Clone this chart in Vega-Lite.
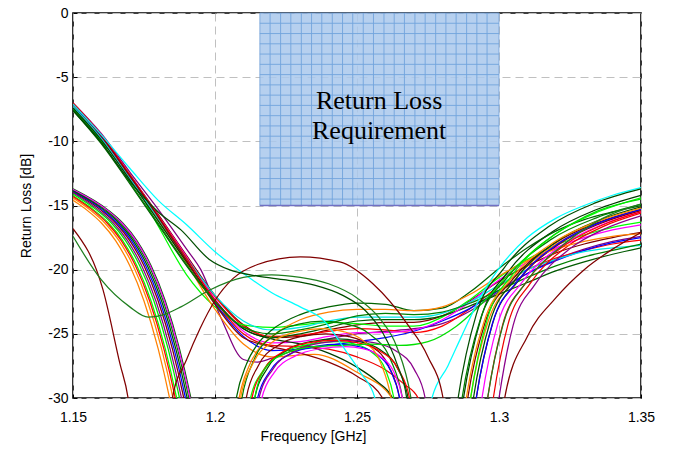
{
"$schema":"https://vega.github.io/schema/vega-lite/v6.json",
"width":568,"height":385,
"autosize":{"type":"none"},
"padding":{"left":73,"top":13,"right":34,"bottom":58},
"background":"#ffffff",
"config":{"view":{"stroke":"#000000","strokeWidth":1.6},"font":"Liberation Sans"},
"datasets":{
"box":[{"f":1.2158,"f2":1.3,"d":-15,"d2":0}],
"vgrid":[{"f":1.2194,"d":-15,"d2":0},{"f":1.2231,"d":-15,"d2":0},{"f":1.2267,"d":-15,"d2":0},{"f":1.2304,"d":-15,"d2":0},{"f":1.234,"d":-15,"d2":0},{"f":1.2376,"d":-15,"d2":0},{"f":1.2413,"d":-15,"d2":0},{"f":1.2449,"d":-15,"d2":0},{"f":1.2485,"d":-15,"d2":0},{"f":1.2522,"d":-15,"d2":0},{"f":1.2558,"d":-15,"d2":0},{"f":1.2595,"d":-15,"d2":0},{"f":1.2631,"d":-15,"d2":0},{"f":1.2667,"d":-15,"d2":0},{"f":1.2704,"d":-15,"d2":0},{"f":1.274,"d":-15,"d2":0},{"f":1.2777,"d":-15,"d2":0},{"f":1.2813,"d":-15,"d2":0},{"f":1.2849,"d":-15,"d2":0},{"f":1.2886,"d":-15,"d2":0},{"f":1.2922,"d":-15,"d2":0},{"f":1.2958,"d":-15,"d2":0}],
"hgrid":[{"d":-0.8,"f":1.2158,"f2":1.3},{"d":-1.6,"f":1.2158,"f2":1.3},{"d":-2.4,"f":1.2158,"f2":1.3},{"d":-3.2,"f":1.2158,"f2":1.3},{"d":-4.0,"f":1.2158,"f2":1.3},{"d":-4.8,"f":1.2158,"f2":1.3},{"d":-5.6,"f":1.2158,"f2":1.3},{"d":-6.4,"f":1.2158,"f2":1.3},{"d":-7.2,"f":1.2158,"f2":1.3},{"d":-8.0,"f":1.2158,"f2":1.3},{"d":-8.8,"f":1.2158,"f2":1.3},{"d":-9.6,"f":1.2158,"f2":1.3},{"d":-10.5,"f":1.2158,"f2":1.3},{"d":-11.3,"f":1.2158,"f2":1.3},{"d":-12.1,"f":1.2158,"f2":1.3},{"d":-12.9,"f":1.2158,"f2":1.3},{"d":-13.7,"f":1.2158,"f2":1.3},{"d":-14.5,"f":1.2158,"f2":1.3}],
"label":[{"f":1.2578,"d":-7.5}],
"curves":[
{"s":"A1","f":1.15,"d":-7.0},{"s":"A1","f":1.16,"d":-9.4},{"s":"A1","f":1.17,"d":-12.4},{"s":"A1","f":1.18,"d":-15.3},{"s":"A1","f":1.19,"d":-18.4},{"s":"A1","f":1.195,"d":-20.0},{"s":"A1","f":1.202,"d":-23.7},{"s":"A1","f":1.21,"d":-27.0},{"s":"A1","f":1.215,"d":-27.2},{"s":"A1","f":1.22,"d":-26.9},{"s":"A1","f":1.23,"d":-26.1},{"s":"A1","f":1.24,"d":-25.4},{"s":"A1","f":1.25,"d":-25.0},{"s":"A1","f":1.26,"d":-24.8},{"s":"A1","f":1.27,"d":-24.6},{"s":"A1","f":1.28,"d":-24.2},{"s":"A1","f":1.29,"d":-23.2},{"s":"A1","f":1.30,"d":-21.7},{"s":"A1","f":1.31,"d":-20.3},{"s":"A1","f":1.32,"d":-19.2},{"s":"A1","f":1.33,"d":-18.4},{"s":"A1","f":1.34,"d":-17.8},{"s":"A1","f":1.35,"d":-17.4},
{"s":"A2","f":1.15,"d":-7.1},{"s":"A2","f":1.16,"d":-9.6},{"s":"A2","f":1.17,"d":-12.6},{"s":"A2","f":1.18,"d":-15.7},{"s":"A2","f":1.19,"d":-18.9},{"s":"A2","f":1.20,"d":-22.0},{"s":"A2","f":1.21,"d":-24.3},{"s":"A2","f":1.22,"d":-25.3},{"s":"A2","f":1.23,"d":-25.2},{"s":"A2","f":1.24,"d":-24.7},{"s":"A2","f":1.25,"d":-24.3},{"s":"A2","f":1.26,"d":-24.1},{"s":"A2","f":1.27,"d":-24.1},{"s":"A2","f":1.28,"d":-23.6},{"s":"A2","f":1.29,"d":-22.4},{"s":"A2","f":1.30,"d":-20.9},{"s":"A2","f":1.31,"d":-19.7},{"s":"A2","f":1.32,"d":-18.7},{"s":"A2","f":1.33,"d":-18.0},{"s":"A2","f":1.34,"d":-17.5},{"s":"A2","f":1.35,"d":-17.1},
{"s":"A3","f":1.15,"d":-7.2},{"s":"A3","f":1.16,"d":-9.7},{"s":"A3","f":1.17,"d":-12.8},{"s":"A3","f":1.18,"d":-15.9},{"s":"A3","f":1.19,"d":-19.1},{"s":"A3","f":1.20,"d":-22.1},{"s":"A3","f":1.21,"d":-24.4},{"s":"A3","f":1.22,"d":-25.2},{"s":"A3","f":1.23,"d":-25.1},{"s":"A3","f":1.24,"d":-24.8},{"s":"A3","f":1.25,"d":-24.6},{"s":"A3","f":1.26,"d":-24.7},{"s":"A3","f":1.27,"d":-24.9},{"s":"A3","f":1.28,"d":-24.4},{"s":"A3","f":1.29,"d":-23.0},{"s":"A3","f":1.30,"d":-21.3},{"s":"A3","f":1.31,"d":-20.0},{"s":"A3","f":1.32,"d":-19.1},{"s":"A3","f":1.33,"d":-18.5},{"s":"A3","f":1.34,"d":-18.0},{"s":"A3","f":1.35,"d":-17.7},
{"s":"A4","f":1.15,"d":-7.5},{"s":"A4","f":1.16,"d":-10.0},{"s":"A4","f":1.17,"d":-12.6},{"s":"A4","f":1.18,"d":-16.6},{"s":"A4","f":1.19,"d":-20.4},{"s":"A4","f":1.20,"d":-22.9},{"s":"A4","f":1.21,"d":-24.3},{"s":"A4","f":1.22,"d":-24.5},{"s":"A4","f":1.23,"d":-24.3},{"s":"A4","f":1.24,"d":-24.1},{"s":"A4","f":1.25,"d":-24.2},{"s":"A4","f":1.26,"d":-24.4},{"s":"A4","f":1.27,"d":-24.4},{"s":"A4","f":1.28,"d":-23.7},{"s":"A4","f":1.29,"d":-22.3},{"s":"A4","f":1.30,"d":-20.6},{"s":"A4","f":1.31,"d":-19.2},{"s":"A4","f":1.32,"d":-18.1},{"s":"A4","f":1.33,"d":-17.3},{"s":"A4","f":1.34,"d":-16.7},{"s":"A4","f":1.35,"d":-16.3},
{"s":"A5","f":1.15,"d":-7.2},{"s":"A5","f":1.16,"d":-9.7},{"s":"A5","f":1.17,"d":-12.8},{"s":"A5","f":1.18,"d":-16.0},{"s":"A5","f":1.19,"d":-19.3},{"s":"A5","f":1.20,"d":-22.6},{"s":"A5","f":1.21,"d":-25.2},{"s":"A5","f":1.22,"d":-26.3},{"s":"A5","f":1.23,"d":-26.2},{"s":"A5","f":1.24,"d":-25.9},{"s":"A5","f":1.25,"d":-25.6},{"s":"A5","f":1.26,"d":-25.3},{"s":"A5","f":1.27,"d":-24.8},{"s":"A5","f":1.28,"d":-24.0},{"s":"A5","f":1.29,"d":-23.0},{"s":"A5","f":1.30,"d":-21.6},{"s":"A5","f":1.31,"d":-20.3},{"s":"A5","f":1.32,"d":-19.3},{"s":"A5","f":1.33,"d":-18.5},{"s":"A5","f":1.34,"d":-17.9},{"s":"A5","f":1.35,"d":-17.5},
{"s":"A6","f":1.15,"d":-7.3},{"s":"A6","f":1.16,"d":-9.8},{"s":"A6","f":1.17,"d":-12.9},{"s":"A6","f":1.18,"d":-16.1},{"s":"A6","f":1.19,"d":-19.5},{"s":"A6","f":1.20,"d":-23.1},{"s":"A6","f":1.21,"d":-25.8},{"s":"A6","f":1.22,"d":-26.8},{"s":"A6","f":1.235,"d":-26.6},{"s":"A6","f":1.25,"d":-28.0},{"s":"A6","f":1.2623,"d":-30},{"s":"A6","f":1.265,"d":-35},{"s":"A6","f":1.287,"d":-35},{"s":"A6","f":1.29,"d":-30},{"s":"A6","f":1.296,"d":-24.16},{"s":"A6","f":1.305,"d":-20.95},{"s":"A6","f":1.32,"d":-18.03},{"s":"A6","f":1.335,"d":-16.42},{"s":"A6","f":1.35,"d":-15.4},
{"s":"A7","f":1.15,"d":-7.6},{"s":"A7","f":1.16,"d":-10.2},{"s":"A7","f":1.17,"d":-13.3},{"s":"A7","f":1.18,"d":-16.5},{"s":"A7","f":1.19,"d":-19.7},{"s":"A7","f":1.20,"d":-22.5},{"s":"A7","f":1.21,"d":-24.6},{"s":"A7","f":1.22,"d":-25.3},{"s":"A7","f":1.23,"d":-25.0},{"s":"A7","f":1.24,"d":-24.5},{"s":"A7","f":1.25,"d":-24.0},{"s":"A7","f":1.26,"d":-23.9},{"s":"A7","f":1.27,"d":-23.9},{"s":"A7","f":1.28,"d":-23.6},{"s":"A7","f":1.29,"d":-22.8},{"s":"A7","f":1.30,"d":-21.9},{"s":"A7","f":1.31,"d":-21.0},{"s":"A7","f":1.32,"d":-20.1},{"s":"A7","f":1.33,"d":-19.4},{"s":"A7","f":1.34,"d":-18.8},{"s":"A7","f":1.35,"d":-18.3},
{"s":"A8","f":1.15,"d":-7.1},{"s":"A8","f":1.16,"d":-9.5},{"s":"A8","f":1.17,"d":-12.6},{"s":"A8","f":1.18,"d":-15.8},{"s":"A8","f":1.19,"d":-19.0},{"s":"A8","f":1.20,"d":-22.3},{"s":"A8","f":1.21,"d":-24.8},{"s":"A8","f":1.22,"d":-25.7},{"s":"A8","f":1.23,"d":-25.6},{"s":"A8","f":1.24,"d":-25.2},{"s":"A8","f":1.25,"d":-24.9},{"s":"A8","f":1.26,"d":-24.9},{"s":"A8","f":1.27,"d":-24.7},{"s":"A8","f":1.28,"d":-23.9},{"s":"A8","f":1.29,"d":-22.5},{"s":"A8","f":1.30,"d":-20.8},{"s":"A8","f":1.31,"d":-19.4},{"s":"A8","f":1.32,"d":-18.3},{"s":"A8","f":1.33,"d":-17.5},{"s":"A8","f":1.34,"d":-16.9},{"s":"A8","f":1.35,"d":-16.5},
{"s":"A9","f":1.15,"d":-7.3},{"s":"A9","f":1.16,"d":-9.8},{"s":"A9","f":1.17,"d":-12.9},{"s":"A9","f":1.18,"d":-16.0},{"s":"A9","f":1.19,"d":-19.1},{"s":"A9","f":1.20,"d":-22.0},{"s":"A9","f":1.21,"d":-24.0},{"s":"A9","f":1.22,"d":-24.7},{"s":"A9","f":1.23,"d":-24.5},{"s":"A9","f":1.24,"d":-24.0},{"s":"A9","f":1.25,"d":-23.7},{"s":"A9","f":1.26,"d":-23.7},{"s":"A9","f":1.27,"d":-23.7},{"s":"A9","f":1.28,"d":-23.4},{"s":"A9","f":1.29,"d":-22.5},{"s":"A9","f":1.30,"d":-21.2},{"s":"A9","f":1.31,"d":-20.0},{"s":"A9","f":1.32,"d":-19.2},{"s":"A9","f":1.33,"d":-18.6},{"s":"A9","f":1.34,"d":-18.3},{"s":"A9","f":1.35,"d":-18.1},
{"s":"A10","f":1.15,"d":-7.4},{"s":"A10","f":1.16,"d":-9.9},{"s":"A10","f":1.17,"d":-13.0},{"s":"A10","f":1.18,"d":-16.2},{"s":"A10","f":1.19,"d":-19.4},{"s":"A10","f":1.20,"d":-22.4},{"s":"A10","f":1.21,"d":-24.6},{"s":"A10","f":1.22,"d":-25.4},{"s":"A10","f":1.23,"d":-25.8},{"s":"A10","f":1.24,"d":-26.5},{"s":"A10","f":1.25,"d":-27.6},{"s":"A10","f":1.257,"d":-28.7},{"s":"A10","f":1.2625,"d":-30},{"s":"A10","f":1.266,"d":-35},{"s":"A10","f":1.2845,"d":-35},{"s":"A10","f":1.2875,"d":-30},{"s":"A10","f":1.2938,"d":-23.68},{"s":"A10","f":1.3031,"d":-20.2},{"s":"A10","f":1.3188,"d":-17.04},{"s":"A10","f":1.3344,"d":-15.31},{"s":"A10","f":1.35,"d":-14.2},
{"s":"A11","f":1.15,"d":-7.0},{"s":"A11","f":1.16,"d":-9.5},{"s":"A11","f":1.17,"d":-12.6},{"s":"A11","f":1.18,"d":-15.8},{"s":"A11","f":1.19,"d":-19.1},{"s":"A11","f":1.20,"d":-22.4},{"s":"A11","f":1.21,"d":-25.0},{"s":"A11","f":1.22,"d":-25.9},{"s":"A11","f":1.23,"d":-26.0},{"s":"A11","f":1.24,"d":-26.2},{"s":"A11","f":1.25,"d":-26.8},{"s":"A11","f":1.26,"d":-27.8},{"s":"A11","f":1.2665,"d":-28.9},{"s":"A11","f":1.2715,"d":-30},{"s":"A11","f":1.2745,"d":-35},{"s":"A11","f":1.295,"d":-35},{"s":"A11","f":1.298,"d":-30},{"s":"A11","f":1.3032,"d":-24.24},{"s":"A11","f":1.311,"d":-21.07},{"s":"A11","f":1.324,"d":-18.19},{"s":"A11","f":1.337,"d":-16.61},{"s":"A11","f":1.35,"d":-15.6},
{"s":"A12","f":1.15,"d":-7.1},{"s":"A12","f":1.16,"d":-9.6},{"s":"A12","f":1.17,"d":-12.7},{"s":"A12","f":1.18,"d":-15.9},{"s":"A12","f":1.19,"d":-19.3},{"s":"A12","f":1.20,"d":-22.7},{"s":"A12","f":1.21,"d":-25.3},{"s":"A12","f":1.22,"d":-26.0},{"s":"A12","f":1.23,"d":-26.5},{"s":"A12","f":1.24,"d":-27.2},{"s":"A12","f":1.25,"d":-28.3},{"s":"A12","f":1.259,"d":-30},{"s":"A12","f":1.262,"d":-35},{"s":"A12","f":1.289,"d":-35},{"s":"A12","f":1.292,"d":-30},{"s":"A12","f":1.2978,"d":-24.16},{"s":"A12","f":1.3065,"d":-20.95},{"s":"A12","f":1.321,"d":-18.03},{"s":"A12","f":1.3355,"d":-16.42},{"s":"A12","f":1.35,"d":-15.4},
{"s":"A13","f":1.15,"d":-7.5},{"s":"A13","f":1.16,"d":-10.1},{"s":"A13","f":1.17,"d":-13.2},{"s":"A13","f":1.18,"d":-16.4},{"s":"A13","f":1.19,"d":-19.6},{"s":"A13","f":1.20,"d":-22.5},{"s":"A13","f":1.21,"d":-24.5},{"s":"A13","f":1.22,"d":-25.0},{"s":"A13","f":1.23,"d":-24.7},{"s":"A13","f":1.24,"d":-24.2},{"s":"A13","f":1.25,"d":-23.6},{"s":"A13","f":1.26,"d":-23.4},{"s":"A13","f":1.27,"d":-23.5},{"s":"A13","f":1.28,"d":-23.3},{"s":"A13","f":1.29,"d":-22.6},{"s":"A13","f":1.30,"d":-21.6},{"s":"A13","f":1.31,"d":-20.6},{"s":"A13","f":1.32,"d":-19.7},{"s":"A13","f":1.33,"d":-19.0},{"s":"A13","f":1.34,"d":-18.5},{"s":"A13","f":1.35,"d":-18.0},
{"s":"B1","f":1.15,"d":-13.7},{"s":"B1","f":1.1625,"d":-15.38},{"s":"B1","f":1.1675,"d":-16.36},{"s":"B1","f":1.1725,"d":-17.73},{"s":"B1","f":1.1775,"d":-19.7},{"s":"B1","f":1.1825,"d":-22.44},{"s":"B1","f":1.1875,"d":-26.17},{"s":"B1","f":1.1915,"d":-30},{"s":"B1","f":1.1945,"d":-33.4},{"s":"B1","f":1.2045,"d":-35},{"s":"B1","f":1.2075,"d":-30},{"s":"B1","f":1.211,"d":-27.4},{"s":"B1","f":1.215,"d":-25.8},{"s":"B1","f":1.22,"d":-24.7},{"s":"B1","f":1.23,"d":-23.5},{"s":"B1","f":1.24,"d":-22.9},{"s":"B1","f":1.25,"d":-22.6},{"s":"B1","f":1.26,"d":-22.7},{"s":"B1","f":1.27,"d":-23.2},{"s":"B1","f":1.28,"d":-23.0},{"s":"B1","f":1.29,"d":-21.7},{"s":"B1","f":1.30,"d":-19.9},{"s":"B1","f":1.31,"d":-18.3},{"s":"B1","f":1.32,"d":-17.0},{"s":"B1","f":1.33,"d":-16.1},{"s":"B1","f":1.34,"d":-15.5},{"s":"B1","f":1.35,"d":-15.0},
{"s":"B2","f":1.15,"d":-14.6},{"s":"B2","f":1.155,"d":-15.38},{"s":"B2","f":1.16,"d":-16.36},{"s":"B2","f":1.165,"d":-17.73},{"s":"B2","f":1.17,"d":-19.7},{"s":"B2","f":1.175,"d":-22.44},{"s":"B2","f":1.18,"d":-26.17},{"s":"B2","f":1.184,"d":-30},{"s":"B2","f":1.187,"d":-33.4},{"s":"B2","f":1.2055,"d":-35},{"s":"B2","f":1.2085,"d":-30},{"s":"B2","f":1.212,"d":-27.5},{"s":"B2","f":1.216,"d":-26.0},{"s":"B2","f":1.22,"d":-25.2},{"s":"B2","f":1.23,"d":-23.9},{"s":"B2","f":1.24,"d":-23.3},{"s":"B2","f":1.25,"d":-23.1},{"s":"B2","f":1.26,"d":-23.1},{"s":"B2","f":1.27,"d":-23.2},{"s":"B2","f":1.28,"d":-22.9},{"s":"B2","f":1.29,"d":-21.9},{"s":"B2","f":1.30,"d":-20.5},{"s":"B2","f":1.31,"d":-19.3},{"s":"B2","f":1.32,"d":-18.4},{"s":"B2","f":1.33,"d":-17.8},{"s":"B2","f":1.34,"d":-17.4},{"s":"B2","f":1.35,"d":-17.2},
{"s":"B3","f":1.15,"d":-13.8},{"s":"B3","f":1.1618,"d":-15.38},{"s":"B3","f":1.1668,"d":-16.36},{"s":"B3","f":1.1718,"d":-17.73},{"s":"B3","f":1.1768,"d":-19.7},{"s":"B3","f":1.1818,"d":-22.44},{"s":"B3","f":1.1868,"d":-26.17},{"s":"B3","f":1.1908,"d":-30},{"s":"B3","f":1.1938,"d":-33.4},{"s":"B3","f":1.2065,"d":-35},{"s":"B3","f":1.2095,"d":-30},{"s":"B3","f":1.2138,"d":-27},{"s":"B3","f":1.2209,"d":-25.08},{"s":"B3","f":1.2295,"d":-24.24},{"s":"B3","f":1.238,"d":-24},{"s":"B3","f":1.2464,"d":-24.24},{"s":"B3","f":1.2548,"d":-25.08},{"s":"B3","f":1.2618,"d":-27},{"s":"B3","f":1.266,"d":-30},{"s":"B3","f":1.269,"d":-35},{"s":"B3","f":1.284,"d":-35},{"s":"B3","f":1.287,"d":-30},{"s":"B3","f":1.2933,"d":-23.96},{"s":"B3","f":1.3028,"d":-20.64},{"s":"B3","f":1.3185,"d":-17.62},{"s":"B3","f":1.3343,"d":-15.96},{"s":"B3","f":1.35,"d":-14.9},
{"s":"B4","f":1.15,"d":-13.95},{"s":"B4","f":1.16,"d":-15.38},{"s":"B4","f":1.165,"d":-16.36},{"s":"B4","f":1.17,"d":-17.73},{"s":"B4","f":1.175,"d":-19.7},{"s":"B4","f":1.18,"d":-22.44},{"s":"B4","f":1.185,"d":-26.17},{"s":"B4","f":1.189,"d":-30},{"s":"B4","f":1.192,"d":-33.4},{"s":"B4","f":1.208,"d":-35},{"s":"B4","f":1.211,"d":-30},{"s":"B4","f":1.2152,"d":-27.5},{"s":"B4","f":1.2222,"d":-25.9},{"s":"B4","f":1.2306,"d":-25.2},{"s":"B4","f":1.239,"d":-25},{"s":"B4","f":1.2468,"d":-25.2},{"s":"B4","f":1.2546,"d":-25.9},{"s":"B4","f":1.2611,"d":-27.5},{"s":"B4","f":1.265,"d":-30},{"s":"B4","f":1.268,"d":-35},{"s":"B4","f":1.286,"d":-35},{"s":"B4","f":1.289,"d":-30},{"s":"B4","f":1.2951,"d":-24.12},{"s":"B4","f":1.3043,"d":-20.89},{"s":"B4","f":1.3195,"d":-17.95},{"s":"B4","f":1.3348,"d":-16.33},{"s":"B4","f":1.35,"d":-15.3},
{"s":"B5","f":1.15,"d":-14.25},{"s":"B5","f":1.1575,"d":-15.38},{"s":"B5","f":1.1625,"d":-16.36},{"s":"B5","f":1.1675,"d":-17.73},{"s":"B5","f":1.1725,"d":-19.7},{"s":"B5","f":1.1775,"d":-22.44},{"s":"B5","f":1.1825,"d":-26.17},{"s":"B5","f":1.1865,"d":-30},{"s":"B5","f":1.1895,"d":-33.4},{"s":"B5","f":1.2095,"d":-35},{"s":"B5","f":1.2125,"d":-30},{"s":"B5","f":1.2171,"d":-27.8},{"s":"B5","f":1.2247,"d":-26.39},{"s":"B5","f":1.2339,"d":-25.78},{"s":"B5","f":1.243,"d":-25.6},{"s":"B5","f":1.249,"d":-25.78},{"s":"B5","f":1.255,"d":-26.39},{"s":"B5","f":1.26,"d":-27.8},{"s":"B5","f":1.263,"d":-30},{"s":"B5","f":1.266,"d":-35},{"s":"B5","f":1.287,"d":-35},{"s":"B5","f":1.29,"d":-30},{"s":"B5","f":1.296,"d":-23.76},{"s":"B5","f":1.305,"d":-20.33},{"s":"B5","f":1.32,"d":-17.21},{"s":"B5","f":1.335,"d":-15.49},{"s":"B5","f":1.35,"d":-14.4},
{"s":"B6","f":1.15,"d":-13.9},{"s":"B6","f":1.1606,"d":-15.38},{"s":"B6","f":1.1656,"d":-16.36},{"s":"B6","f":1.1706,"d":-17.73},{"s":"B6","f":1.1756,"d":-19.7},{"s":"B6","f":1.1806,"d":-22.44},{"s":"B6","f":1.1856,"d":-26.17},{"s":"B6","f":1.1896,"d":-30},{"s":"B6","f":1.1926,"d":-33.4},{"s":"B6","f":1.212,"d":-35},{"s":"B6","f":1.215,"d":-30},{"s":"B6","f":1.2194,"d":-27.9},{"s":"B6","f":1.2266,"d":-26.56},{"s":"B6","f":1.2353,"d":-25.97},{"s":"B6","f":1.244,"d":-25.8},{"s":"B6","f":1.2503,"d":-25.97},{"s":"B6","f":1.2566,"d":-26.56},{"s":"B6","f":1.2619,"d":-27.9},{"s":"B6","f":1.265,"d":-30},{"s":"B6","f":1.268,"d":-35},{"s":"B6","f":1.289,"d":-35},{"s":"B6","f":1.292,"d":-30},{"s":"B6","f":1.2978,"d":-24.12},{"s":"B6","f":1.3065,"d":-20.89},{"s":"B6","f":1.321,"d":-17.95},{"s":"B6","f":1.3355,"d":-16.33},{"s":"B6","f":1.35,"d":-15.3},
{"s":"B7","f":1.15,"d":-13.75},{"s":"B7","f":1.1622,"d":-15.38},{"s":"B7","f":1.1672,"d":-16.36},{"s":"B7","f":1.1722,"d":-17.73},{"s":"B7","f":1.1772,"d":-19.7},{"s":"B7","f":1.1822,"d":-22.44},{"s":"B7","f":1.1872,"d":-26.17},{"s":"B7","f":1.1912,"d":-30},{"s":"B7","f":1.1942,"d":-33.4},{"s":"B7","f":1.2135,"d":-35},{"s":"B7","f":1.2165,"d":-30},{"s":"B7","f":1.2209,"d":-28},{"s":"B7","f":1.2283,"d":-26.72},{"s":"B7","f":1.2372,"d":-26.16},{"s":"B7","f":1.246,"d":-26},{"s":"B7","f":1.252,"d":-26.16},{"s":"B7","f":1.258,"d":-26.72},{"s":"B7","f":1.263,"d":-28},{"s":"B7","f":1.266,"d":-30},{"s":"B7","f":1.269,"d":-35},{"s":"B7","f":1.291,"d":-35},{"s":"B7","f":1.294,"d":-30},{"s":"B7","f":1.2996,"d":-24.2},{"s":"B7","f":1.308,"d":-21.01},{"s":"B7","f":1.322,"d":-18.11},{"s":"B7","f":1.336,"d":-16.52},{"s":"B7","f":1.35,"d":-15.5},
{"s":"B8","f":1.15,"d":-13.85},{"s":"B8","f":1.1612,"d":-15.38},{"s":"B8","f":1.1662,"d":-16.36},{"s":"B8","f":1.1712,"d":-17.73},{"s":"B8","f":1.1762,"d":-19.7},{"s":"B8","f":1.1812,"d":-22.44},{"s":"B8","f":1.1862,"d":-26.17},{"s":"B8","f":1.1902,"d":-30},{"s":"B8","f":1.1932,"d":-33.4},{"s":"B8","f":1.211,"d":-35},{"s":"B8","f":1.214,"d":-30},{"s":"B8","f":1.2184,"d":-27.7},{"s":"B8","f":1.2256,"d":-26.23},{"s":"B8","f":1.2343,"d":-25.58},{"s":"B8","f":1.243,"d":-25.4},{"s":"B8","f":1.2505,"d":-25.58},{"s":"B8","f":1.258,"d":-26.23},{"s":"B8","f":1.2643,"d":-27.7},{"s":"B8","f":1.268,"d":-30},{"s":"B8","f":1.271,"d":-35},{"s":"B8","f":1.288,"d":-35},{"s":"B8","f":1.291,"d":-30},{"s":"B8","f":1.2969,"d":-24.04},{"s":"B8","f":1.3058,"d":-20.76},{"s":"B8","f":1.3205,"d":-17.78},{"s":"B8","f":1.3353,"d":-16.14},{"s":"B8","f":1.35,"d":-15.1},
{"s":"B9","f":1.15,"d":-14.0},{"s":"B9","f":1.1592,"d":-15.38},{"s":"B9","f":1.1642,"d":-16.36},{"s":"B9","f":1.1692,"d":-17.73},{"s":"B9","f":1.1742,"d":-19.7},{"s":"B9","f":1.1792,"d":-22.44},{"s":"B9","f":1.1842,"d":-26.17},{"s":"B9","f":1.1882,"d":-30},{"s":"B9","f":1.1912,"d":-33.4},{"s":"B9","f":1.2125,"d":-35},{"s":"B9","f":1.2155,"d":-30},{"s":"B9","f":1.2204,"d":-27.75},{"s":"B9","f":1.2285,"d":-26.31},{"s":"B9","f":1.2383,"d":-25.68},{"s":"B9","f":1.248,"d":-25.5},{"s":"B9","f":1.2558,"d":-25.68},{"s":"B9","f":1.2636,"d":-26.31},{"s":"B9","f":1.2701,"d":-27.75},{"s":"B9","f":1.274,"d":-30},{"s":"B9","f":1.277,"d":-35},{"s":"B9","f":1.297,"d":-35},{"s":"B9","f":1.3,"d":-30},{"s":"B9","f":1.305,"d":-24.32},{"s":"B9","f":1.3125,"d":-21.2},{"s":"B9","f":1.325,"d":-18.36},{"s":"B9","f":1.3375,"d":-16.79},{"s":"B9","f":1.35,"d":-15.8},
{"s":"B10","f":1.15,"d":-14.42},{"s":"B10","f":1.1562,"d":-15.38},{"s":"B10","f":1.1612,"d":-16.36},{"s":"B10","f":1.1662,"d":-17.73},{"s":"B10","f":1.1712,"d":-19.7},{"s":"B10","f":1.1762,"d":-22.44},{"s":"B10","f":1.1812,"d":-26.17},{"s":"B10","f":1.1852,"d":-30},{"s":"B10","f":1.1882,"d":-33.4},{"s":"B10","f":1.206,"d":-35},{"s":"B10","f":1.209,"d":-30},{"s":"B10","f":1.2134,"d":-27.3},{"s":"B10","f":1.2206,"d":-25.57},{"s":"B10","f":1.2293,"d":-24.82},{"s":"B10","f":1.238,"d":-24.6},{"s":"B10","f":1.2452,"d":-24.82},{"s":"B10","f":1.2524,"d":-25.57},{"s":"B10","f":1.2584,"d":-27.3},{"s":"B10","f":1.262,"d":-30},{"s":"B10","f":1.265,"d":-35},{"s":"B10","f":1.2855,"d":-35},{"s":"B10","f":1.2885,"d":-30},{"s":"B10","f":1.2947,"d":-24.08},{"s":"B10","f":1.3039,"d":-20.82},{"s":"B10","f":1.3193,"d":-17.86},{"s":"B10","f":1.3346,"d":-16.24},{"s":"B10","f":1.35,"d":-15.2},
{"s":"B11","f":1.15,"d":-14.3},{"s":"B11","f":1.157,"d":-15.38},{"s":"B11","f":1.162,"d":-16.36},{"s":"B11","f":1.167,"d":-17.73},{"s":"B11","f":1.172,"d":-19.7},{"s":"B11","f":1.177,"d":-22.44},{"s":"B11","f":1.182,"d":-26.17},{"s":"B11","f":1.186,"d":-30},{"s":"B11","f":1.189,"d":-33.4},{"s":"B11","f":1.21,"d":-35},{"s":"B11","f":1.213,"d":-30},{"s":"B11","f":1.2174,"d":-27.75},{"s":"B11","f":1.2246,"d":-26.31},{"s":"B11","f":1.2333,"d":-25.68},{"s":"B11","f":1.242,"d":-25.5},{"s":"B11","f":1.25,"d":-25.68},{"s":"B11","f":1.2579,"d":-26.31},{"s":"B11","f":1.2645,"d":-27.75},{"s":"B11","f":1.2685,"d":-30},{"s":"B11","f":1.2715,"d":-35},{"s":"B11","f":1.293,"d":-35},{"s":"B11","f":1.296,"d":-30},{"s":"B11","f":1.3014,"d":-24.2},{"s":"B11","f":1.3095,"d":-21.01},{"s":"B11","f":1.323,"d":-18.11},{"s":"B11","f":1.3365,"d":-16.52},{"s":"B11","f":1.35,"d":-15.5},
{"s":"B12","f":1.15,"d":-14.1},{"s":"B12","f":1.1585,"d":-15.38},{"s":"B12","f":1.1635,"d":-16.36},{"s":"B12","f":1.1685,"d":-17.73},{"s":"B12","f":1.1735,"d":-19.7},{"s":"B12","f":1.1785,"d":-22.44},{"s":"B12","f":1.1835,"d":-26.17},{"s":"B12","f":1.1875,"d":-30},{"s":"B12","f":1.1905,"d":-33.4},{"s":"B12","f":1.211,"d":-35},{"s":"B12","f":1.214,"d":-30},{"s":"B12","f":1.218,"d":-27.6},{"s":"B12","f":1.225,"d":-26.5},{"s":"B12","f":1.235,"d":-26.0},{"s":"B12","f":1.245,"d":-25.9},{"s":"B12","f":1.255,"d":-25.8},{"s":"B12","f":1.265,"d":-25.9},{"s":"B12","f":1.275,"d":-25.6},{"s":"B12","f":1.285,"d":-24.4},{"s":"B12","f":1.295,"d":-22.4},{"s":"B12","f":1.305,"d":-20.0},{"s":"B12","f":1.315,"d":-18.0},{"s":"B12","f":1.325,"d":-16.5},{"s":"B12","f":1.335,"d":-15.4},{"s":"B12","f":1.35,"d":-14.5},
{"s":"C1","f":1.15,"d":-7.1},{"s":"C1","f":1.16,"d":-9.5},{"s":"C1","f":1.17,"d":-12.1},{"s":"C1","f":1.18,"d":-14.6},{"s":"C1","f":1.19,"d":-16.5},{"s":"C1","f":1.20,"d":-18.6},{"s":"C1","f":1.21,"d":-20.3},{"s":"C1","f":1.22,"d":-21.8},{"s":"C1","f":1.23,"d":-22.9},{"s":"C1","f":1.238,"d":-23.9},{"s":"C1","f":1.246,"d":-26.3},{"s":"C1","f":1.2515,"d":-28.1},{"s":"C1","f":1.2563,"d":-30},{"s":"C1","f":1.259,"d":-33},{"s":"C1","f":1.2735,"d":-33},{"s":"C1","f":1.2764,"d":-30},{"s":"C1","f":1.282,"d":-27.5},{"s":"C1","f":1.287,"d":-25.1},{"s":"C1","f":1.2933,"d":-22.2},{"s":"C1","f":1.30,"d":-19.9},{"s":"C1","f":1.31,"d":-17.5},{"s":"C1","f":1.32,"d":-16.0},{"s":"C1","f":1.33,"d":-15.0},{"s":"C1","f":1.34,"d":-14.2},{"s":"C1","f":1.35,"d":-13.6},
{"s":"MA","f":1.182,"d":-35},{"s":"MA","f":1.185,"d":-30},{"s":"MA","f":1.19,"d":-27.0},{"s":"MA","f":1.1947,"d":-24.6},{"s":"MA","f":1.20,"d":-22.4},{"s":"MA","f":1.2063,"d":-20.7},{"s":"MA","f":1.215,"d":-19.6},{"s":"MA","f":1.23,"d":-19.0},{"s":"MA","f":1.244,"d":-19.4},{"s":"MA","f":1.2556,"d":-21.1},{"s":"MA","f":1.2676,"d":-24.2},{"s":"MA","f":1.275,"d":-26.8},{"s":"MA","f":1.2803,"d":-30},{"s":"MA","f":1.283,"d":-35},{"s":"MA","f":1.299,"d":-35},{"s":"MA","f":1.302,"d":-30},{"s":"MA","f":1.31,"d":-25.2},{"s":"MA","f":1.32,"d":-22.2},{"s":"MA","f":1.33,"d":-20.0},{"s":"MA","f":1.34,"d":-18.4},{"s":"MA","f":1.35,"d":-17.1},
{"s":"M1","f":1.15,"d":-16.8},{"s":"M1","f":1.1606,"d":-21.6},{"s":"M1","f":1.1665,"d":-27.3},{"s":"M1","f":1.1694,"d":-30},{"s":"M1","f":1.172,"d":-35},
{"s":"W","f":1.15,"d":-17.4},{"s":"W","f":1.16,"d":-20.8},{"s":"W","f":1.17,"d":-22.9},{"s":"W","f":1.1765,"d":-23.7},{"s":"W","f":1.182,"d":-23.5},{"s":"W","f":1.188,"d":-22.9},{"s":"W","f":1.198,"d":-21.6},{"s":"W","f":1.21,"d":-20.6},{"s":"W","f":1.22,"d":-20.4},{"s":"W","f":1.23,"d":-20.6},{"s":"W","f":1.24,"d":-21.1},{"s":"W","f":1.25,"d":-22.2},{"s":"W","f":1.258,"d":-23.8},{"s":"W","f":1.264,"d":-26.0},{"s":"W","f":1.269,"d":-30},{"s":"W","f":1.272,"d":-35},{"s":"W","f":1.293,"d":-35},{"s":"W","f":1.296,"d":-30},{"s":"W","f":1.3014,"d":-24.3},{"s":"W","f":1.3095,"d":-21.0},{"s":"W","f":1.323,"d":-18.0},{"s":"W","f":1.3365,"d":-16.0},{"s":"W","f":1.35,"d":-14.9},
{"s":"D1","f":1.15,"d":-7.6},{"s":"D1","f":1.16,"d":-10.1},{"s":"D1","f":1.17,"d":-13.1},{"s":"D1","f":1.18,"d":-15.5},{"s":"D1","f":1.188,"d":-16.9},{"s":"D1","f":1.198,"d":-19.2},{"s":"D1","f":1.205,"d":-20.0},{"s":"D1","f":1.215,"d":-20.5},{"s":"D1","f":1.225,"d":-20.8},{"s":"D1","f":1.235,"d":-21.2},{"s":"D1","f":1.245,"d":-22.0},{"s":"D1","f":1.253,"d":-23.2},{"s":"D1","f":1.259,"d":-24.9},{"s":"D1","f":1.264,"d":-27.3},{"s":"D1","f":1.2675,"d":-30},{"s":"D1","f":1.27,"d":-35},{"s":"D1","f":1.2826,"d":-35},{"s":"D1","f":1.2856,"d":-30},{"s":"D1","f":1.292,"d":-23.5},{"s":"D1","f":1.3017,"d":-19.9},{"s":"D1","f":1.3178,"d":-16.6},{"s":"D1","f":1.3339,"d":-14.8},{"s":"D1","f":1.35,"d":-13.7}
]},
"encoding":{
 "x":{"field":"f","type":"quantitative","scale":{"domain":[1.15,1.35],"nice":false,"zero":false},
  "axis":{"values":[1.15,1.2,1.25,1.3,1.35],"labelExpr":"datum.value + ''","labelFont":"Liberation Sans","labelFontSize":14,"labelColor":"#000000","labelPadding":16,"labelOverlap":false,"labelFlush":false,
   "ticks":true,"tickSize":-4,"tickColor":"#000000","domain":false,"grid":true,"gridColor":"#c0c0c0","gridDash":[8,5],"gridWidth":1,
   "title":"Frequency [GHz]","titleFont":"Liberation Sans","titleFontSize":14,"titleFontWeight":"normal","titleColor":"#000000","titlePadding":5,"titleX":240}},
 "y":{"field":"d","type":"quantitative","scale":{"domain":[-30,0],"nice":false,"zero":false},
  "axis":{"values":[-30,-25,-20,-15,-10,-5,0],"labelExpr":"datum.value + ''","labelFont":"Liberation Sans","labelFontSize":14,"labelColor":"#000000","labelPadding":9,"labelOverlap":false,"labelFlush":false,
   "ticks":true,"tickSize":-4,"tickColor":"#000000","domain":false,"grid":true,"gridColor":"#c0c0c0","gridDash":[8,5],"gridWidth":1,
   "title":"Return Loss [dB]","titleFont":"Liberation Sans","titleFontSize":14,"titleFontWeight":"normal","titleColor":"#000000","titlePadding":14}}
},
"layer":[
{"data":{"name":"box"},"mark":{"type":"rect","fill":"#a9c8ec","fillOpacity":0.85,"stroke":"#6f9fd8","strokeWidth":0.8},
 "encoding":{"x2":{"field":"f2"},"y2":{"field":"d2"}}},
{"data":{"name":"vgrid"},"mark":{"type":"rule","color":"#72a4dd","strokeWidth":0.9},
 "encoding":{"y2":{"field":"d2"}}},
{"data":{"name":"hgrid"},"mark":{"type":"rule","color":"#72a4dd","strokeWidth":0.9},
 "encoding":{"x2":{"field":"f2"}}},
{"data":{"name":"box"},"mark":{"type":"rule","color":"#7070c4","strokeWidth":1.6},
 "encoding":{"x2":{"field":"f2"}}},
{"data":{"name":"curves"},"mark":{"type":"line","clip":true,"interpolate":"monotone","strokeWidth":1.25},
 "encoding":{
  "color":{"field":"s","type":"nominal","legend":null,"scale":{
   "domain":["A1","A2","A3","A4","A5","A6","A7","A8","A9","A10","A11","A12","A13","B1","B2","B3","B4","B5","B6","B7","B8","B9","B10","B11","B12","C1","MA","M1","W","D1"],
   "range":["#800080","#800000","#ff0000","#00ff00","#0000ff","#ff8000","#005a00","#ff00ff","#00e5e5","#003c00","#ee0000","#8b0000","#008000","#006400","#ff8000","#008000","#800000","#00ff00","#0000ff","#ff00ff","#005000","#8b008b","#ff8c00","#ff0000","#00e000","#00ffff","#800000","#800000","#1e7e1e","#004d00"]}}}},
{"data":{"name":"label"},"mark":{"type":"text","text":["Return Loss","Requirement"],"font":"Liberation Serif","fontSize":26,"lineHeight":30,"align":"center","baseline":"alphabetic","color":"#000000"}}
]
}
